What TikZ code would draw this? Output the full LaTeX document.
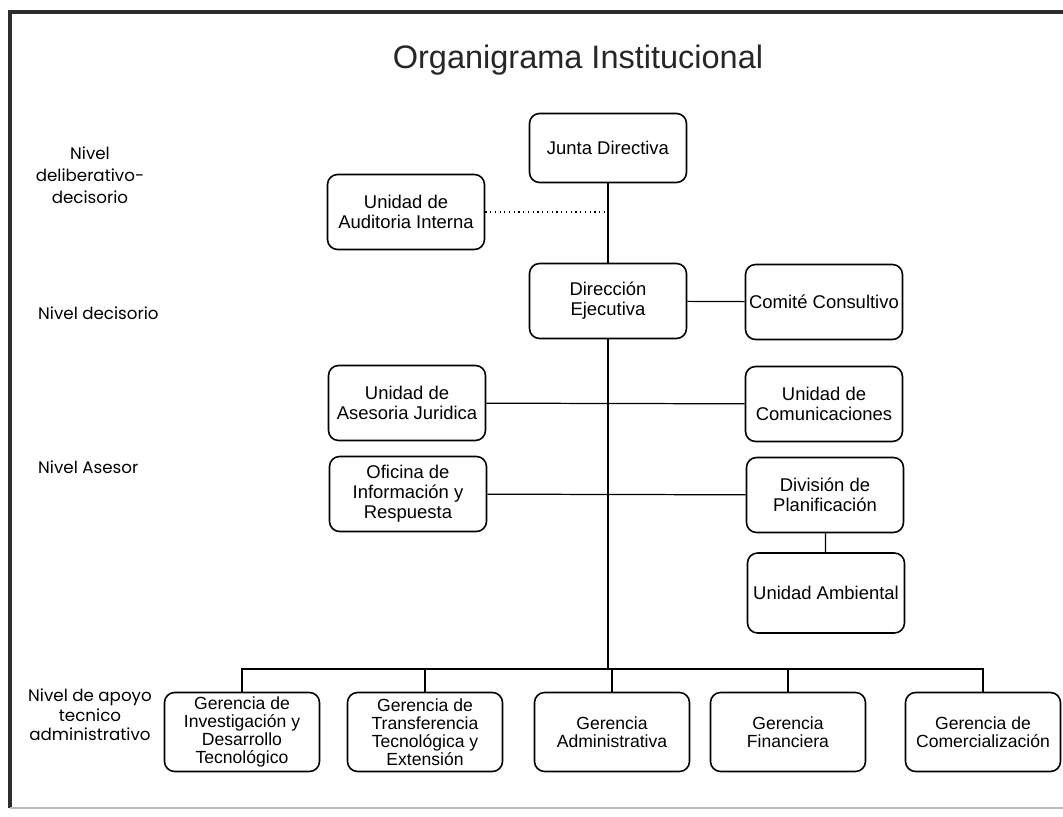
\documentclass[tikz,border=0pt]{standalone}
\usepackage{fontspec}
\setmainfont{Liberation Sans}
\newfontfamily\levelfont{Poppins}
\usepackage{xcolor}
\definecolor{frame1}{RGB}{45, 45, 45}
\definecolor{frame2}{RGB}{185, 185, 185}

\begin{document}
\begin{tikzpicture}[x=0.02cm, y=-0.02cm,
	unit/.style={draw, rounded corners=0.2cm, line width=0.9pt, align=center, minimum width=3.14cm, minimum height=1.5cm, inner sep=1pt, font=\fontsize{10.5}{11.5}\selectfont},
	gerencia/.style={unit, minimum width=3.1cm, minimum height=1.58cm, font=\fontsize{10}{10.2}\selectfont},
	level/.style={align=center, font=\levelfont\fontsize{9.5}{11}\selectfont},
	link/.style={line width=0.7pt}]
	\useasboundingbox (0,0) rectangle (1063,817);
	% frame
	\draw[line width=2pt, frame1] (10,808) -- (10,12) -- (1063,12);
	\draw[line width=1pt, frame2] (10,808) -- (1063,808);
	\node[font=\fontsize{18.5}{20}\selectfont, text=black!85] (title) at (578,60) {Organigrama Institucional};
	% levels
	\node[level] (lvl1) at (90,175) {Nivel\\[1.5pt]deliberativo-\\[1.5pt]decisorio};
	\node[level, anchor=west] (lvl2) at (32,313) {Nivel decisorio};
	\node[level, anchor=west] (lvl3) at (32,467) {Nivel Asesor};
	\node[level] (lvl4) at (90,715) {Nivel de apoyo\\tecnico\\administrativo};
	% units
	\node[unit, minimum height=1.38cm] (junta) at (608,148) {Junta Directiva};
	\node[unit] (auditoria) at (406,212) {Unidad de\\Auditoria Interna};
	\node[unit] (direccion) at (608,301) {Dirección\\Ejecutiva};
	\node[unit] (comite) at (824,302) {Comité Consultivo};
	\node[unit] (asesoria) at (407,403) {Unidad de\\Asesoria Juridica};
	\node[unit] (comunicaciones) at (824,404) {Unidad de\\Comunicaciones};
	\node[unit] (oficina) at (408,494) {Oficina de\\Información y\\Respuesta};
	\node[unit] (planificacion) at (825,495) {División de\\Planificación};
	\node[unit, minimum height=1.6cm] (ambiental) at (826,593) {Unidad Ambiental};
	\node[gerencia] (investigacion) at (242,732) {Gerencia de\\Investigación y\\Desarrollo\\Tecnológico};
	\node[gerencia] (transferencia) at (425,732) {Gerencia de\\Transferencia\\Tecnológica y\\Extensión};
	\node[gerencia] (administrativa) at (612,732) {Gerencia\\Administrativa};
	\node[gerencia] (financiera) at (788,732) {Gerencia\\Financiera};
	\node[gerencia] (comercializacion) at (983,732) {Gerencia de\\Comercialización};
	% connectors
	\coordinate (bus) at (608,669);
	\draw[link] (junta) -- (direccion);
	\draw[link] (direccion) -- (bus);
	\draw[link, dotted, line width=1pt] (auditoria) -- (auditoria -| junta);
	\draw[link] (direccion) -- (comite);
	\draw[link] (asesoria) -- (comunicaciones);
	\draw[link] (oficina) -- (planificacion);
	\draw[link] (planificacion) -- (ambiental);
	\draw[link] (investigacion.north) |- (bus) -| (comercializacion.north);
	\foreach \g in {transferencia, administrativa, financiera}
		\draw[link] (\g.north) -- (\g.north |- bus);
\end{tikzpicture}
\end{document}
